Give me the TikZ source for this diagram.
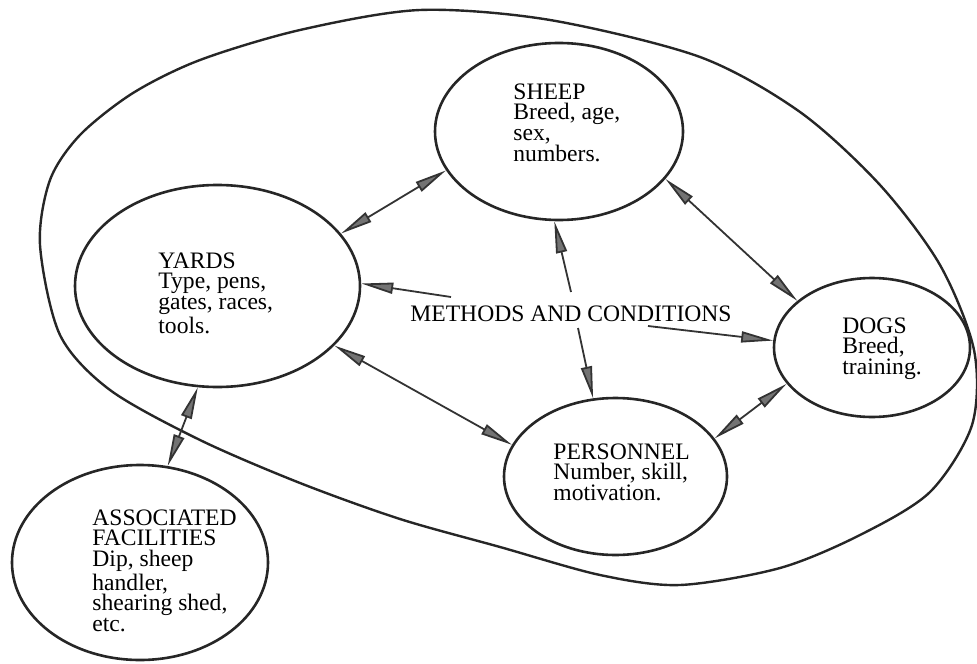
\documentclass[tikz,border=0pt]{standalone}
\usepackage{fontspec}
\setmainfont{Liberation Serif}
\usetikzlibrary{arrows.meta,shapes.geometric}

\tikzset{
  blob/.style={ellipse, draw=black!85, line width=1.3pt, inner sep=0pt},
  words/.style={align=left, anchor=north west, inner sep=0pt,
    font=\fontsize{11.8}{10.4}\selectfont},
  rim/.style={draw=black!85, line width=1.2pt},
  link/.style={<->, draw=black!80, line width=0.9pt},
  push/.style={->, draw=black!80, line width=0.9pt},
}

\begin{document}
\begin{tikzpicture}[x=0.5pt,y=0.5pt,>={Triangle[length=16pt,width=5.5pt,fill=black!55,color=black!80]}]
 \useasboundingbox (0,0) rectangle (977,-663);

 % the big loop round the yard system
 \draw[rim] plot[smooth cycle] coordinates {(40,-245) (50,-180) (80,-135) (133,-93) (200,-60)
   (300,-30) (420,-10) (550,-20) (700,-57) (800,-112) (880,-185) (940,-265) (974,-350)
   (972,-425) (930,-492) (860,-535) (780,-568) (680,-585) (600,-575) (500,-547) (400,-519)
   (300,-483) (200,-440) (110,-390) (60,-335)};

  \draw (559,-131.5) node[blob, minimum width=124pt, minimum height=88.5pt] (sheep) {};
  \draw (217.5,-286) node[blob, minimum width=142.5pt, minimum height=101pt] (yards) {};
  \draw (872,-347.5) node[blob, minimum width=98pt, minimum height=69.5pt] (dogs) {};
  \draw (615.5,-476.5) node[blob, minimum width=111.5pt, minimum height=78.5pt] (personnel) {};
  \draw (140,-562.5) node[blob, minimum width=128pt, minimum height=97.5pt] (facilities) {};

  \draw (513,-83) node[words] (sheeptext) {SHEEP\\Breed, age,\\sex,\\numbers.};
  \draw (158,-252) node[words] (yardstext) {YARDS\\Type, pens,\\gates, races,\\tools.};
  \draw (842,-317) node[words] (dogstext) {DOGS\\Breed,\\training.};
  \draw (553,-443) node[words] (personneltext) {PERSONNEL\\Number, skill,\\motivation.};
  \draw (92,-509) node[words] (facilitiestext) {ASSOCIATED\\FACILITIES\\Dip, sheep\\handler,\\shearing shed,\\etc.};
  \draw (410,-305) node[words] (methods) {METHODS AND CONDITIONS};

  \coordinate (m-yards) at (451,-297);
  \coordinate (m-sheep) at (571,-292);
  \coordinate (m-personnel) at (578,-328);
  \coordinate (m-dogs) at (648,-326);

     \draw[link] (yards.23) -- (sheep.199);
     \draw[link] (sheep.-24) -- (dogs.148);
     \draw[link] (yards.-27) -- (personnel.163);
     \draw[link] (personnel.21) -- (dogs.203);
     \draw[link] (yards.259) -- (facilities.74);

     \draw[push] (m-yards) -- (yards.1);
     \draw[push] (m-sheep) -- (sheep.267);
     \draw[push] (m-personnel) -- (personnel.106);
     \draw[push] (m-dogs) -- (dogs.176);

\end{tikzpicture}
\end{document}
